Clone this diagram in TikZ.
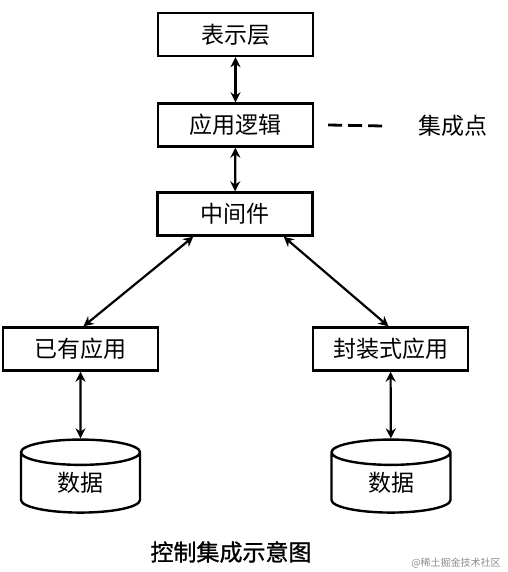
\documentclass[tikz,border=0pt]{standalone}
\usepackage{fontspec}
\newfontfamily\cjk{Noto Sans CJK SC}
\newfontfamily\cjkheavy[FakeBold=1]{Noto Sans CJK SC}
\usetikzlibrary{shapes.geometric,arrows.meta}
\tikzset{
  layer/.style={draw, line width=2.4pt, minimum width=155pt, minimum height=43pt, inner sep=0pt, font=\cjk\fontsize{23}{26}\selectfont},
  store/.style={draw, line width=2.4pt, cylinder, shape border rotate=90, aspect=0.55, minimum width=119pt, minimum height=73pt, inner sep=0pt, font=\cjk\fontsize{23}{26}\selectfont},
  link/.style={line width=2.2pt, {Stealth[length=10pt,width=10pt]}-{Stealth[length=10pt,width=10pt]}}
}
\begin{document}
\begin{tikzpicture}[x=1pt,y=-1pt]
        \useasboundingbox (0,0) rectangle (507,572);
        \node[layer] (pres)  at (235.5,34.5) {表示层};
        \node[layer] (logic) at (235.5,125)  {应用逻辑};
        \node[layer] (mid)   at (235,214)    {中间件};
        \node[layer] (old)   at (80.5,349)   {已有应用};
        \node[layer] (pack)  at (390.5,349)  {封装式应用};
        
        \node[store] (dbold)  at (80.5,483)  {数据};
        \node[store] (dbpack) at (391,483)   {数据};
        
        \node[inner sep=0pt, font=\cjk\fontsize{23}{26}\selectfont] (point) at (453,126) {集成点};
        \node[inner sep=0pt, font=\cjkheavy\fontsize{23}{26}\selectfont] (title) at (231,552) {控制集成示意图};
        \node[inner sep=0pt, text=black!45, font=\cjk\fontsize{10}{12}\selectfont] (mark) at (456,563) {@稀土掘金技术社区};
        
        \draw[link] (pres) -- (logic);
        \draw[link] (logic) -- (mid);
        \draw[link] ([xshift=37pt]mid.south west) -- ([xshift=3pt]old.north);
        \draw[link] ([xshift=-30pt]mid.south east) -- ([xshift=-2pt]pack.north);
        \draw[link] (old) -- (dbold);
        \draw[link] (pack) -- (dbpack);
        \draw[line width=2.8pt, dash pattern=on 14pt off 6pt] ([xshift=14pt]logic.east) -- ([xshift=-35pt]point.west);
      \end{tikzpicture}
\end{document}
